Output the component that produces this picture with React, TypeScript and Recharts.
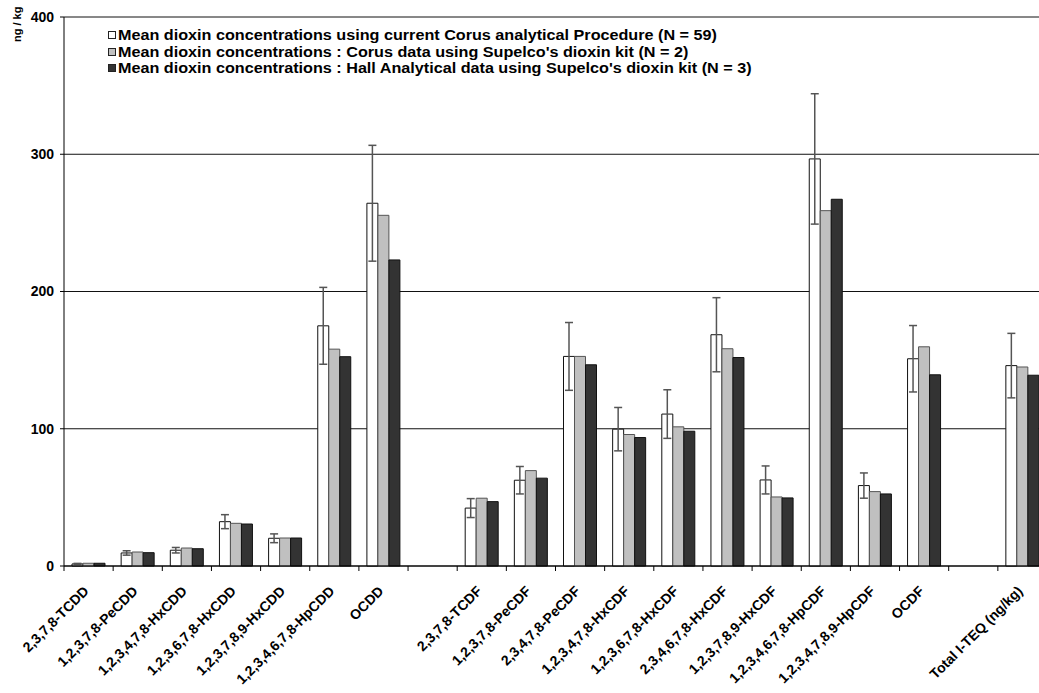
import React from 'react';
import { BarChart, Bar, XAxis, YAxis, CartesianGrid, ErrorBar } from 'recharts';

const categories = [
  '2,3,7,8-TCDD',
  '1,2,3,7,8-PeCDD',
  '1,2,3,4,7,8-HxCDD',
  '1,2,3,6,7,8-HxCDD',
  '1,2,3,7,8,9-HxCDD',
  '1,2,3,4,6,7,8-HpCDD',
  'OCDD',
  ' ',
  '2,3,7,8-TCDF',
  '1,2,3,7,8-PeCDF',
  '2,3,4,7,8-PeCDF',
  '1,2,3,4,7,8-HxCDF',
  '1,2,3,6,7,8-HxCDF',
  '2,3,4,6,7,8-HxCDF',
  '1,2,3,7,8,9-HxCDF',
  '1,2,3,4,6,7,8-HpCDF',
  '1,2,3,4,7,8,9-HpCDF',
  'OCDF',
  '  ',
  'Total I-TEQ (ng/kg)',
];

const corusCurrent = [1.5, 9.5, 11.5, 32.3, 20.2, 175, 264.3, null, 42.2, 62.5, 152.7, 99.7, 110.7, 168.5, 62.7, 296.6, 58.6, 151, null, 146];
const corusCurrentSd = [0.4, 1.6, 2, 5.1, 3.2, 28, 42.2, null, 6.9, 10, 24.7, 15.8, 17.7, 27, 10.2, 47.5, 9.2, 24.2, null, 23.5];
const corusSupelco = [2, 10.2, 13.1, 31.1, 20.4, 158, 255.5, null, 49.4, 69.5, 152.7, 95.8, 101.4, 158.3, 50.3, 258.9, 54.2, 159.7, null, 145];
const hallSupelco = [2, 9.7, 12.6, 30.6, 20.4, 152.5, 223, null, 46.9, 64, 146.6, 93.6, 98.2, 151.9, 49.6, 267.2, 52.5, 139.3, null, 139];

const yTicks = [0, 100, 200, 300, 400];

const legendItems = [
  { label: 'Mean dioxin concentrations using current Corus analytical Procedure (N = 59)', fill: '#ffffff' },
  { label: "Mean dioxin concentrations : Corus data using Supelco's dioxin kit (N = 2)", fill: '#c0c0c0' },
  { label: "Mean dioxin concentrations : Hall Analytical data using Supelco's dioxin kit (N = 3)", fill: '#333333' },
];

const data = categories.map((name, i) => ({
  name,
  current: corusCurrent[i],
  sd: corusCurrentSd[i],
  corus: corusSupelco[i],
  hall: hallSupelco[i],
}));

const FONT = "'Liberation Sans', Arial, Helvetica, sans-serif";
const BAND = 983 / categories.length;

const XTick = (props: any) => {
  const { x, y, payload } = props;
  return (
    <g>
      <line x1={x - BAND / 2} y1={y} x2={x - BAND / 2} y2={y + 5} stroke="#000" />
      <text
        transform={`translate(${x + 1},${y + 26}) rotate(-45)`}
        textAnchor="end"
        fontFamily={FONT}
        fontWeight="bold"
        fontSize={14}
        fill="#000"
      >
        {payload.value.trim()}
      </text>
    </g>
  );
};

export default function App() {
  return (
    <div style={{ position: 'fixed', left: 0, top: 0, width: 1039, height: 693, overflow: 'hidden', background: '#fff' }}>
      <BarChart
        width={1062}
        height={693}
        data={data}
        margin={{ top: 17, right: 15, bottom: 0, left: 0 }}
        barCategoryGap={8}
        barGap={0}
      >
        <CartesianGrid horizontal vertical={false} stroke="#111" strokeOpacity={1} />
        <XAxis
          dataKey="name"
          height={127}
          interval={0}
          tick={<XTick />}
          tickLine={false}
          tickSize={0}
          tickMargin={0}
          axisLine={{ stroke: '#000' }}
        />
        <YAxis
          width={64}
          domain={[0, 400]}
          ticks={yTicks}
          interval={0}
          tickSize={4}
          tickMargin={6}
          axisLine={{ stroke: '#000' }}
          tickLine={{ stroke: '#000' }}
          tick={{ fontFamily: FONT, fontWeight: 'bold', fontSize: 14, fill: '#000' }}
        />
        <Bar dataKey="current" fill="#ffffff" stroke="#111" strokeWidth={1} isAnimationActive={false}>
          <ErrorBar dataKey="sd" width={4} stroke="#555" strokeWidth={1.5} direction="y" />
        </Bar>
        <Bar dataKey="corus" fill="#c0c0c0" stroke="#555" strokeWidth={1} isAnimationActive={false} />
        <Bar dataKey="hall" fill="#333333" stroke="#111" strokeWidth={1} isAnimationActive={false} />
      </BarChart>
      <div
        style={{
          position: 'absolute',
          left: 11,
          top: 42,
          transform: 'rotate(-90deg)',
          transformOrigin: 'left top',
          fontFamily: FONT,
          fontWeight: 'bold',
          fontSize: 11,
          lineHeight: '12px',
          whiteSpace: 'nowrap',
        }}
      >
        ng / kg
      </div>
      <div style={{ position: 'absolute', left: 108, top: 27, fontFamily: FONT, fontWeight: 'bold', fontSize: 14 }}>
        {legendItems.map((it) => (
          <div key={it.label} style={{ display: 'flex', alignItems: 'center', height: 16.5, whiteSpace: 'nowrap' }}>
            <span
              style={{
                display: 'inline-block',
                width: 6,
                height: 6,
                background: it.fill,
                border: '1px solid #222',
                marginRight: 2,
              }}
            />
            <span style={{ display: 'inline-block', transform: 'scaleX(1.155)', transformOrigin: 'left center' }}>
              {it.label}
            </span>
          </div>
        ))}
      </div>
    </div>
  );
}
